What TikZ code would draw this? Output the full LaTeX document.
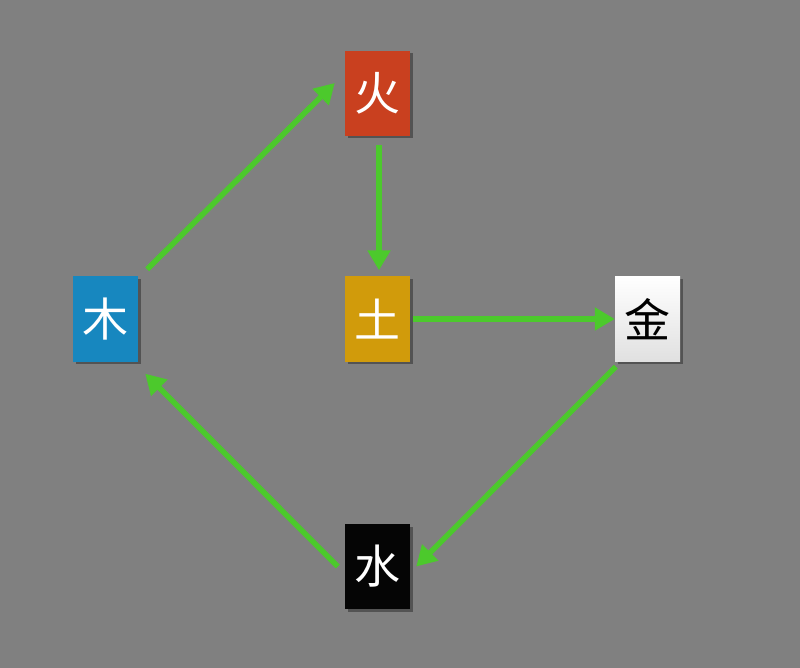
\documentclass[tikz,border=0pt]{standalone}
\usepackage{fontspec}
\newfontfamily\cjk{Noto Sans CJK SC}
\usetikzlibrary{arrows.meta,shadows}
\definecolor{bg}{HTML}{808080}
\definecolor{fire}{HTML}{C9401F}
\definecolor{wood}{HTML}{1787BF}
\definecolor{earth}{HTML}{D19B0B}
\definecolor{water}{HTML}{050505}
\definecolor{arrowgreen}{HTML}{4CC92C}
\begin{document}
\begin{tikzpicture}[x=1pt,y=-1pt,
  elem/.style={minimum width=65pt,minimum height=85pt,inner sep=0pt,
    font=\cjk\fontsize{46}{46}\selectfont,
    drop shadow={shadow xshift=2.5pt,shadow yshift=-2.5pt,opacity=0.35,fill=black}},
  flow/.style={draw=arrowgreen,line width=5.5pt,-{Triangle[length=20pt,width=22pt]}}]
\fill[bg] (0,0) rectangle (800,668);
\useasboundingbox (0,0) rectangle (800,668);
\node[elem,fill=fire,text=white] (huo) at (377.5,93.5) {火};
\node[elem,fill=wood,text=white] (mu) at (105.5,319) {木};
\node[elem,fill=earth,text=white] (tu) at (377.5,319) {土};
\node[elem,top color=white,bottom color=black!12,text=black] (jin) at (647.5,319) {金};
\node[elem,fill=water,text=white] (shui) at (377.5,566.5) {水};
\draw[flow] ([shift={(9,-7)}]mu.north east) -- ([shift={(-10,-10.5)}]huo.west);
\draw[flow,shorten <=9pt,shorten >=6pt] ([xshift=1.5pt]huo.south) -- ([xshift=1.5pt]tu.north);
\draw[flow,shorten <=3pt] (tu.east) -- (jin.west);
\draw[flow] ([shift={(1,5)}]jin.south west) -- ([shift={(6,0)}]shui.east);
\draw[flow] ([shift={(-7,0)}]shui.west) -- ([shift={(7,12)}]mu.south east);
\end{tikzpicture}
\end{document}
